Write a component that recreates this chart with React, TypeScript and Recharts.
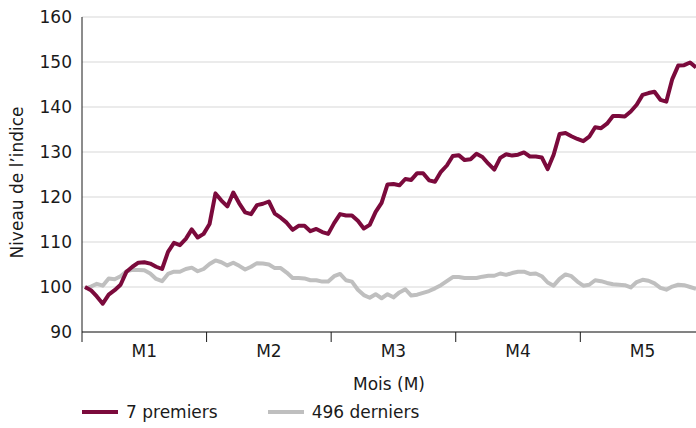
import { LineChart, Line, XAxis, YAxis, CartesianGrid, Legend } from "recharts";

// indice base 100, one point per trading day (21 per month)
const top7 = [
  100, 99.3, 97.9, 96.3, 98.3, 99.3, 100.5, 103.4, 104.5, 105.4,
  105.5, 105.2, 104.5, 104.0, 107.8, 109.8, 109.3, 110.7, 112.8, 111.0,
  111.8, 114.0, 120.8, 119.2, 117.9, 121.0, 118.6, 116.6, 116.2, 118.2,
  118.5, 119.0, 116.3, 115.4, 114.3, 112.7, 113.6, 113.6, 112.4, 112.9,
  112.2, 111.8, 114.2, 116.2, 115.9, 115.9, 114.7, 113.0, 113.8, 116.7,
  118.7, 122.8, 122.9, 122.6, 124.0, 123.8, 125.3, 125.3, 123.7, 123.4,
  125.6, 127.0, 129.1, 129.3, 128.2, 128.4, 129.6, 128.9, 127.4, 126.1,
  128.7, 129.5, 129.2, 129.4, 129.9, 129.0, 129.0, 128.8, 126.2, 129.4,
  134.0, 134.2, 133.5, 132.9, 132.4, 133.4, 135.5, 135.3, 136.3, 138.0,
  138.0, 137.9, 139.0, 140.5, 142.7, 143.1, 143.4, 141.6, 141.2, 146.2,
  149.2, 149.3, 149.9, 148.8,
];

const last496 = [
  99.7, 100.1, 100.7, 100.3, 101.9, 101.7, 102.4, 103.5, 103.8, 103.8,
  103.7, 103.0, 101.8, 101.3, 102.9, 103.4, 103.4, 104.0, 104.3, 103.5,
  104.0, 105.1, 105.9, 105.5, 104.8, 105.4, 104.7, 103.9, 104.5, 105.3,
  105.2, 105.0, 104.2, 104.2, 103.2, 102.0, 102.0, 101.9, 101.5, 101.5,
  101.2, 101.2, 102.4, 102.9, 101.5, 101.2, 99.4, 98.2, 97.6, 98.4,
  97.5, 98.4, 97.7, 98.8, 99.5, 98.1, 98.3, 98.7, 99.1, 99.7,
  100.4, 101.3, 102.2, 102.2, 102.0, 102.0, 102.0, 102.3, 102.5, 102.5,
  103.0, 102.7, 103.1, 103.4, 103.4, 102.9, 103.0, 102.4, 101.0, 100.3,
  101.8, 102.8, 102.4, 101.2, 100.3, 100.5, 101.5, 101.3, 100.9, 100.6,
  100.5, 100.4, 99.9, 101.1, 101.6, 101.4, 100.8, 99.8, 99.4, 100.1,
  100.5, 100.4, 100.0, 99.6,
];

const months = ["M1", "M2", "M3", "M4", "M5"];
const daysPerMonth = 21;
const yTicks = [90, 100, 110, 120, 130, 140, 150, 160];

const seriesNames = ["7 premiers", "496 derniers"];
const colors = ["#7b0a3c", "#bfbfbf"];

const data = top7.map((v, i) => ({ day: i, top7: v, last496: last496[i] }));

// month boundaries (tick marks) and month centres (labels)
const boundaries = months.map((_, i) => i * daysPerMonth - 0.5);
const centres = months.map((_, i) => i * daysPerMonth + 10);
const domain: [number, number] = [-0.5, 103];

const font = "'DejaVu Sans', sans-serif";

function LegendContent() {
  return (
    <div style={{ display: "flex", alignItems: "center", fontSize: 17, color: "#1a1a1a", height: 24 }}>
      {seriesNames.map((name, i) => (
        <div key={name} style={{ display: "flex", alignItems: "center", marginRight: 50 }}>
          <span style={{ display: "inline-block", width: 36, height: 4, background: colors[i], marginRight: 8 }} />
          {name}
        </div>
      ))}
    </div>
  );
}

function YLabel(props: any) {
  const vb = props.viewBox;
  const cx = 17;
  const cy = vb.y + vb.height / 2 + 8;
  return (
    <text x={cx} y={cy} transform={`rotate(-90, ${cx}, ${cy})`} textAnchor="middle" dominantBaseline="central"
      fontSize={17} fill="#1a1a1a">
      Niveau de l’indice
    </text>
  );
}

export default function App() {
  return (
    <div style={{ position: "absolute", left: 0, top: 0, fontFamily: font }}>
      <LineChart width={696} height={428} data={data} margin={{ top: 17, right: 0, left: 0, bottom: 6 }}>
        <CartesianGrid vertical={false} stroke="#e4e4e4" strokeWidth={1.5} />
        <XAxis
          dataKey="day"
          type="number"
          domain={domain}
          ticks={boundaries}
          tickFormatter={() => ""}
          tickSize={10}
          height={10}
          stroke="#1a1a1a"
          interval={0}
        />
        <XAxis
          xAxisId="m"
          dataKey="day"
          type="number"
          domain={domain}
          ticks={centres}
          tickFormatter={(_v: number, i: number) => months[i]}
          axisLine={false}
          tickLine={false}
          tickSize={0}
          tickMargin={3}
          height={56}
          interval={0}
          tick={{ fill: "#1a1a1a", fontSize: 17 }}
          label={{ value: "Mois (M)", position: "insideBottom", offset: 8, fill: "#1a1a1a", fontSize: 17 }}
        />
        <YAxis
          domain={[90, 160]}
          ticks={yTicks}
          width={82}
          tickLine={false}
          tickSize={0}
          tickMargin={10}
          stroke="#1a1a1a"
          tick={{ fill: "#1a1a1a", fontSize: 17 }}
          label={<YLabel />}
        />
        <Legend
          verticalAlign="bottom"
          align="left"
          content={<LegendContent />}
          wrapperStyle={{ left: 82, bottom: 4, width: 600 }}
        />
        <Line dataKey="last496" name={seriesNames[1]} stroke={colors[1]} strokeWidth={4} dot={false}
          strokeLinejoin="round" isAnimationActive={false} />
        <Line dataKey="top7" name={seriesNames[0]} stroke={colors[0]} strokeWidth={4} dot={false}
          strokeLinejoin="round" isAnimationActive={false} />
      </LineChart>
    </div>
  );
}
